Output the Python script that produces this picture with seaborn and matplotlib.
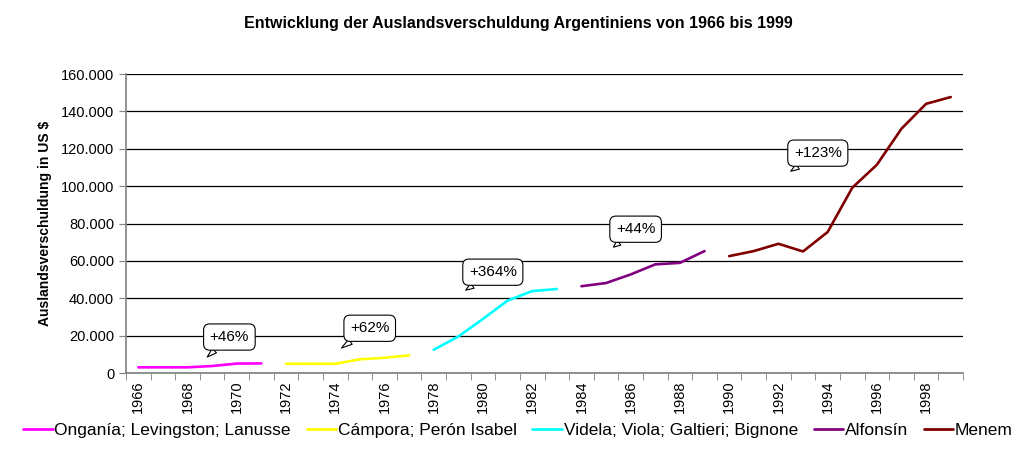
import matplotlib
matplotlib.use("Agg")
import matplotlib.pyplot as plt
import seaborn as sns
import pandas as pd
from matplotlib.ticker import FuncFormatter, FixedLocator

# data, debt in million US$
years = list(range(1966, 2000))
regimes = [
    "Onganía; Levingston; Lanusse",
    "Cámpora; Perón Isabel",
    "Videla; Viola; Galtieri; Bignone",
    "Alfonsín",
    "Menem",
]
regime_years = [
    list(range(1966, 1972)),
    list(range(1972, 1978)),
    list(range(1978, 1984)),
    list(range(1984, 1990)),
    list(range(1990, 2000)),
]
ongania = [3100, 3100, 3100, 3800, 5100, 5200]
campora = [5000, 5000, 5000, 7400, 8200, 9500]
videla = [12500, 19600, 29000, 38800, 43900, 45000]
alfonsin = [46500, 48200, 52800, 58200, 59000, 65300]
menem = [62600, 65300, 69200, 65100, 75500, 99200, 111500, 130800, 144100, 147700]
colors = ["#FF00FF", "#FFFF00", "#00FFFF", "#800080", "#800000"]

callout_text = ["+46%", "+62%", "+364%", "+44%", "+123%"]
callout_box = [(3.7, 19300), (9.4, 24000), (14.4, 54000), (20.2, 77000), (27.6, 117700)]
callout_tail = [(2.8, 8600), (8.25, 13400), (13.3, 44400), (19.3, 67400), (26.5, 108000)]

rows = []
for name, yrs, vals in zip(regimes, regime_years, [ongania, campora, videla, alfonsin, menem]):
    for y, v in zip(yrs, vals):
        rows.append({"pos": years.index(y), "debt": v, "regime": name})
df = pd.DataFrame(rows)

sns.set_style("white")
plt.rcParams["font.family"] = ["Liberation Sans", "DejaVu Sans"]
plt.rcParams["text.color"] = "black"
plt.rcParams["xtick.color"] = "black"
plt.rcParams["ytick.color"] = "black"
plt.rcParams["axes.labelcolor"] = "black"

fig = plt.figure(figsize=(10.36, 4.49), dpi=100)
ax = fig.add_axes([0.1216, 0.169, 0.808, 0.666])

sns.lineplot(data=df, x="pos", y="debt", hue="regime", hue_order=regimes,
             palette=colors, linewidth=1.9, legend=False, ax=ax)

ax.set_xlim(-0.5, len(years) - 0.5)
ax.set_ylim(0, 160000)
ax.set_yticks(range(0, 160001, 20000))
ax.yaxis.set_major_formatter(FuncFormatter(lambda v, p: f"{v:,.0f}".replace(",", ".")))
ax.yaxis.grid(True, color="black", linewidth=0.9)
ax.set_axisbelow(True)

# labels on even years, tick marks on the category boundaries
ax.xaxis.set_major_locator(FixedLocator([i for i, y in enumerate(years) if y % 2 == 0]))
ax.set_xticklabels([str(y) for y in years if y % 2 == 0], rotation=90)
ax.xaxis.set_minor_locator(FixedLocator([i - 0.5 for i in range(len(years) + 1)]))
ax.tick_params(axis="x", which="major", length=0, pad=5, labelsize=10.5)
ax.tick_params(axis="x", which="minor", length=5, color="#808080", bottom=True)
ax.tick_params(axis="y", length=5, color="#808080", left=True, labelsize=10.5)

for side in ["top", "right"]:
    ax.spines[side].set_visible(False)
for side in ["left", "bottom"]:
    ax.spines[side].set_color("#808080")
    ax.spines[side].set_linewidth(1.2)

ax.set_xlabel("")
ax.set_ylabel("Auslandsverschuldung in US $", fontsize=10, fontweight="bold", labelpad=6)
fig.suptitle("Entwicklung der Auslandsverschuldung Argentiniens von 1966 bis 1999",
             fontsize=11.5, fontweight="bold", y=0.965)

for txt, box, tail in zip(callout_text, callout_box, callout_tail):
    ax.annotate(txt, xy=tail, xytext=box, ha="center", va="center", fontsize=11,
                bbox=dict(boxstyle="round,pad=0.4", fc="white", ec="black", lw=0.8),
                arrowprops=dict(arrowstyle="wedge,tail_width=0.4", fc="white", ec="black", lw=0.8,
                                shrinkA=0, shrinkB=0))

handles = [plt.Line2D([], [], color=c, linewidth=2) for c in colors]
fig.legend(handles, regimes, loc="lower center", bbox_to_anchor=(0.5, -0.01), ncol=5,
           frameon=False, fontsize=12.5, handlelength=1.7, handletextpad=0.1,
           columnspacing=0.9)

fig.savefig("out.png", dpi=100)
